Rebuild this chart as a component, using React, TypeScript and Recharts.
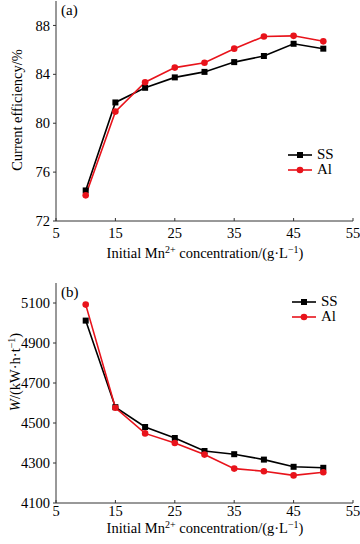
import { Line, LineChart, XAxis, YAxis } from "recharts"

// Initial Mn2+ concentration (g/L)
const concentration = [10, 15, 20, 25, 30, 35, 40, 45, 50]

// (a) current efficiency, %
const effSS = [74.5, 81.7, 82.9, 83.75, 84.2, 85.0, 85.5, 86.5, 86.1]
const effAl = [74.1, 80.95, 83.35, 84.55, 84.95, 86.1, 87.1, 87.15, 86.7]

// (b) energy consumption, kW·h/t
const wSS = [5012, 4579, 4480, 4425, 4360, 4344, 4317, 4281, 4276]
const wAl = [5092, 4576, 4448, 4400, 4342, 4272, 4259, 4238, 4254]

const xTicks = [5, 15, 25, 35, 45, 55]
const effTicks = [72, 76, 80, 84, 88]
const wTicks = [4100, 4300, 4500, 4700, 4900, 5100]

const seriesNames = ["SS", "Al"]

const effData = concentration.map((c, i) => ({ c, ss: effSS[i], al: effAl[i] }))
const wData = concentration.map((c, i) => ({ c, ss: wSS[i], al: wAl[i] }))

const FONT = '"Liberation Serif", "Times New Roman", serif'
const RED = "#e8131b"
const AXIS = "#333"

const SquareDot = (props: any) => {
  const { cx, cy, index } = props
  if (cx == null || cy == null) return null
  return <rect key={index} x={cx - 3} y={cy - 3} width={6} height={6} fill="#000" />
}

const CircleDot = (props: any) => {
  const { cx, cy, index } = props
  if (cx == null || cy == null) return null
  return <circle key={index} cx={cx} cy={cy} r={3.3} fill={RED} />
}

// legend drawn as an overlay so it does not eat into the plot area
function SeriesLegend({ left, top }: { left: number; top: number }) {
  return (
    <div style={{ position: "absolute", left, top, fontFamily: FONT, fontSize: 15, color: "#000", lineHeight: "15px" }}>
      {seriesNames.map((name, i) => (
        <div key={name} style={{ display: "flex", alignItems: "center", height: 15 }}>
          <svg width={26} height={10} style={{ marginRight: 4 }}>
            <line x1={1} x2={25} y1={5} y2={5} stroke={i === 0 ? "#000" : RED} strokeWidth={1.6} />
            {i === 0 ? (
              <rect x={10} y={2} width={6} height={6} fill="#000" />
            ) : (
              <circle cx={13} cy={5} r={3.3} fill={RED} />
            )}
          </svg>
          <span>{name}</span>
        </div>
      ))}
    </div>
  )
}

const xLabel = (y: number) => () => (
  <text x={205} y={y} textAnchor="middle" fontFamily={FONT} fontSize={14.5} fill="#000">
    Initial Mn
    <tspan fontSize={10} dy={-5}>2+</tspan>
    <tspan dy={5}> concentration/(g·L</tspan>
    <tspan fontSize={10} dy={-5}>−1</tspan>
    <tspan dy={5}>)</tspan>
  </text>
)

const effLabel = () => (
  <text
    x={0}
    y={0}
    transform="translate(22,110) rotate(-90)"
    textAnchor="middle"
    fontFamily={FONT}
    fontSize={14.5}
    fill="#000"
  >
    Current efficiency/%
  </text>
)

const wLabel = () => (
  <text
    x={0}
    y={0}
    transform="translate(20,102) rotate(-90)"
    textAnchor="middle"
    fontFamily={FONT}
    fontSize={14.5}
    fill="#000"
  >
    <tspan fontStyle="italic">W</tspan>
    <tspan>/(kW·h·t</tspan>
    <tspan fontSize={10} dy={-5}>−1</tspan>
    <tspan dy={5}>)</tspan>
  </text>
)

const tickStyle = { fontFamily: FONT, fontSize: 14.5, fill: "#000" }

function Panel({ data, domain, yTicks, height, marginTop, xAxisHeight, xTickMargin, xLabelY, yLabel }: any) {
  return (
    <LineChart
      width={360}
      height={height}
      data={data}
      margin={{ top: marginTop, right: 7, bottom: 0, left: 0 }}
      style={{ fontFamily: FONT }}
    >
      <XAxis
        dataKey="c"
        type="number"
        domain={[5, 55]}
        ticks={xTicks}
        interval={0}
        tick={tickStyle}
        tickSize={-3}
        tickMargin={xTickMargin}
        stroke={AXIS}
        height={xAxisHeight}
        label={{ content: xLabel(xLabelY) }}
      />
      <XAxis xAxisId="top" orientation="top" height={0} tick={false} tickLine={false} stroke={AXIS} />
      <YAxis
        type="number"
        domain={domain}
        ticks={yTicks}
        interval={0}
        tick={tickStyle}
        tickSize={3}
        tickMargin={3}
        stroke={AXIS}
        width={56}
        label={{ content: yLabel }}
      />
      <YAxis yAxisId="right" orientation="right" width={0} tick={false} tickLine={false} stroke={AXIS} />
      <Line
        dataKey="ss"
        name="SS"
        stroke="#000"
        strokeWidth={1.6}
        dot={SquareDot}
        activeDot={false}
        isAnimationActive={false}
      />
      <Line
        dataKey="al"
        name="Al"
        stroke={RED}
        strokeWidth={1.6}
        dot={CircleDot}
        activeDot={false}
        isAnimationActive={false}
      />
    </LineChart>
  )
}

export default function App() {
  return (
    <div
      style={{
        position: "absolute",
        left: 0,
        top: 0,
        width: 360,
        height: 544,
        background: "#fff",
        fontFamily: FONT,
      }}
    >
      <div style={{ position: "absolute", left: 0, top: 0 }}>
        <Panel
          data={effData}
          domain={[72, 90]}
          yTicks={effTicks}
          height={270}
          marginTop={1}
          xAxisHeight={49}
          xTickMargin={10}
          xLabelY={258}
          yLabel={effLabel}
        />
      </div>
      <div style={{ position: "absolute", left: 0, top: 270 }}>
        <Panel
          data={wData}
          domain={[4100, 5200]}
          yTicks={wTicks}
          height={274}
          marginTop={13}
          xAxisHeight={41}
          xTickMargin={6}
          xLabelY={263}
          yLabel={wLabel}
        />
      </div>
      <SeriesLegend left={287} top={147} />
      <SeriesLegend left={291} top={294} />
      <div style={{ position: "absolute", left: 61, top: 2, fontSize: 15 }}>(a)</div>
      <div style={{ position: "absolute", left: 61, top: 284, fontSize: 15 }}>(b)</div>
    </div>
  )
}
